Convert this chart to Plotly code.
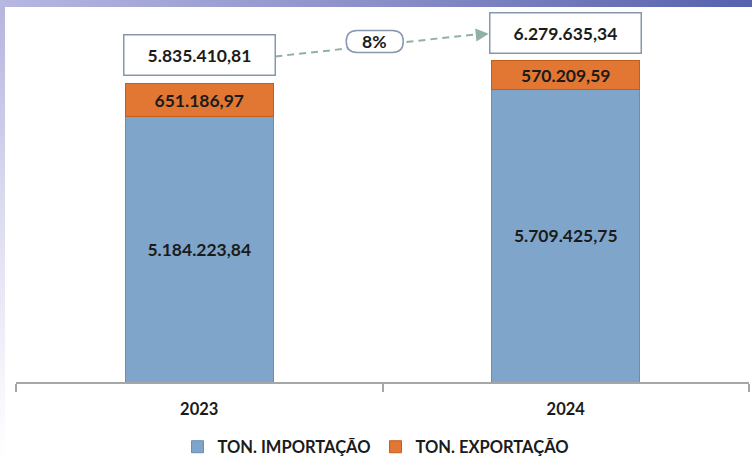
import base64
import plotly.graph_objects as go

# ---------------- data ----------------
years = ["2023", "2024"]
importacao = [5184223.84, 5709425.75]
exportacao = [651186.97, 570209.59]
series_names = ["TON. IMPORTAÇÃO", "TON. EXPORTAÇÃO"]

totals = [i + e for i, e in zip(importacao, exportacao)]
growth_pct = (totals[1] / totals[0] - 1) * 100
xpos = list(range(len(years)))


def fmt_br(v):
    s = f"{v:,.2f}"
    return s.replace(",", "X").replace(".", ",").replace("X", ".")


# ---------------- layout constants ----------------
W, H = 752, 460
ML, MR, MT, MB = 16, 3, 8, 78
PLOT_W = W - ML - MR
PLOT_H = H - MT - MB
XMIN, XMAX = -0.5, len(years) - 0.5
YMAX = 7.31e6
PPU = PLOT_H / YMAX                 # y pixels per unit
DPX = (XMAX - XMIN) / PLOT_W        # x data units per pixel

FONT = "Lato, Calibri, sans-serif"
TXT = "#1b1b1b"
BOX_BORDER = "#8797ae"
ARROW_COL = "#8fb2a4"


def svg_uri(svg):
    return "data:image/svg+xml;base64," + base64.b64encode(svg.encode()).decode()


top_band = svg_uri(
    '<svg xmlns="http://www.w3.org/2000/svg" width="752" height="7" preserveAspectRatio="none" viewBox="0 0 752 7">'
    '<defs><linearGradient id="g" x1="0" x2="1" y1="0" y2="0">'
    '<stop offset="0" stop-color="#b7b7e1"/><stop offset="0.5" stop-color="#8a8fc8"/>'
    '<stop offset="1" stop-color="#5761ad"/></linearGradient></defs>'
    '<rect x="0" y="0" width="752" height="7" fill="url(#g)"/></svg>'
)
left_band = svg_uri(
    '<svg xmlns="http://www.w3.org/2000/svg" width="5" height="453" preserveAspectRatio="none" viewBox="0 0 5 453">'
    '<defs><linearGradient id="g" x1="0" x2="0" y1="0" y2="1">'
    '<stop offset="0" stop-color="#b5b5df"/><stop offset="0.45" stop-color="#dcdcf0"/>'
    '<stop offset="0.9" stop-color="#fafafe"/><stop offset="1" stop-color="#ffffff"/></linearGradient></defs>'
    '<rect x="0" y="0" width="5" height="453" fill="url(#g)"/></svg>'
)

LABEL_FONT = dict(family=FONT, size=17.5, color=TXT, weight="bold")

fig = go.Figure()
fig.add_trace(go.Bar(
    x=xpos, y=importacao, name=series_names[0],
    marker=dict(color="#7fa6ca", line=dict(color="#6a8db0", width=1)),
    texttemplate="%{y:,.2f}", textposition="inside", insidetextanchor="middle",
    textangle=0, constraintext="none", insidetextfont=LABEL_FONT,
    width=0.404,
))
fig.add_trace(go.Bar(
    x=xpos, y=exportacao, name=series_names[1],
    marker=dict(color="#e17733", line=dict(color="#c45c1c", width=1)),
    texttemplate="%{y:,.2f}", textposition="inside", insidetextanchor="middle",
    textangle=0, constraintext="none", insidetextfont=LABEL_FONT,
    width=0.404,
))

annotations = []
shapes = []

# total boxes
for xp, tot in zip(xpos, totals):
    annotations.append(dict(
        x=xp, y=tot, xref="x", yref="y", yanchor="bottom", yshift=7,
        text=fmt_br(tot), showarrow=False, font=LABEL_FONT,
        bgcolor="white", bordercolor=BOX_BORDER, borderwidth=1.5, borderpad=2,
        width=146, height=35,
    ))

# dashed connector between the total boxes
shapes.append(dict(
    type="line", xref="x", yref="y",
    x0=xpos[0] + 76 * DPX, x1=xpos[1] - 84 * DPX,
    y0=totals[0] + 27 / PPU, y1=totals[1] + 27 / PPU,
    line=dict(color=ARROW_COL, width=2, dash="7px,5px"), layer="above",
))
# arrow head
annotations.append(dict(
    x=xpos[1] - 77 * DPX, y=totals[1] + 27 / PPU, xref="x", yref="y",
    text="", showarrow=True, ax=-10, ay=1, arrowhead=2, arrowsize=1.3,
    arrowwidth=2, arrowcolor=ARROW_COL, standoff=0,
))

# rounded growth label box
cx, cy = xpos[0] + 175.5 * DPX, totals[0] + 42 / PPU
hw, hh = 28.5 * DPX, 11 / PPU
rx, ry = 11 * DPX, 11 / PPU
x0, x1, y0, y1 = cx - hw, cx + hw, cy - hh, cy + hh
path = (f"M {x0 + rx},{y0} L {x1 - rx},{y0} Q {x1},{y0} {x1},{y0 + ry} "
        f"Q {x1},{y1} {x1 - rx},{y1} L {x0 + rx},{y1} Q {x0},{y1} {x0},{y1 - ry} "
        f"Q {x0},{y0} {x0 + rx},{y0} Z")
shapes.append(dict(
    type="path", xref="x", yref="y", path=path,
    fillcolor="white", line=dict(color=BOX_BORDER, width=1.5), layer="above",
))
annotations.append(dict(
    x=cx, y=cy, xref="x", yref="y",
    text=f"{growth_pct:.0f}%", showarrow=False, font=LABEL_FONT,
))

fig.update_layout(
    width=W, height=H,
    margin=dict(l=ML, r=MR, t=MT, b=MB, pad=0, autoexpand=False),
    barmode="stack",
    separators=",.",
    paper_bgcolor="white", plot_bgcolor="white",
    showlegend=True,
    legend=dict(
        orientation="h", x=(376 - ML) / PLOT_W, xanchor="center",
        y=(H - MB - 447) / PLOT_H, yanchor="middle",
        font=dict(family=FONT, size=16.5, color=TXT, weight="bold"),
        bgcolor="rgba(0,0,0,0)", itemwidth=30, traceorder="normal",
    ),
    xaxis=dict(
        range=[XMIN, XMAX], autorange=False,
        tickmode="array", tickvals=xpos, ticktext=years, ticks="",
        ticklabelstandoff=11,
        minor=dict(tickmode="array", tickvals=[p - 0.5 for p in xpos] + [xpos[-1] + 0.5],
                   ticks="outside", ticklen=8, tickwidth=2, tickcolor="#a6a6a6", showgrid=False),
        showline=True, linecolor="#a6a6a6", linewidth=2,
        showgrid=False, zeroline=False,
        tickfont=dict(family=FONT, size=16.5, color=TXT, weight="bold"),
        tickangle=0, fixedrange=True,
    ),
    yaxis=dict(range=[0, YMAX], autorange=False, visible=False, showgrid=False, fixedrange=True),
    shapes=shapes,
    annotations=annotations,
    images=[
        dict(source=top_band, xref="paper", yref="paper",
             x=-ML / PLOT_W, y=(H - MB) / PLOT_H, sizex=W / PLOT_W, sizey=7 / PLOT_H,
             xanchor="left", yanchor="top", sizing="stretch", layer="above"),
        dict(source=left_band, xref="paper", yref="paper",
             x=-ML / PLOT_W, y=(H - MB - 7) / PLOT_H, sizex=5 / PLOT_W, sizey=453 / PLOT_H,
             xanchor="left", yanchor="top", sizing="stretch", layer="above"),
    ],
)

fig.write_html(
    "out.html",
    config={"displayModeBar": False},
    post_script="document.body.style.margin='0px';document.body.style.overflow='hidden';",
)
